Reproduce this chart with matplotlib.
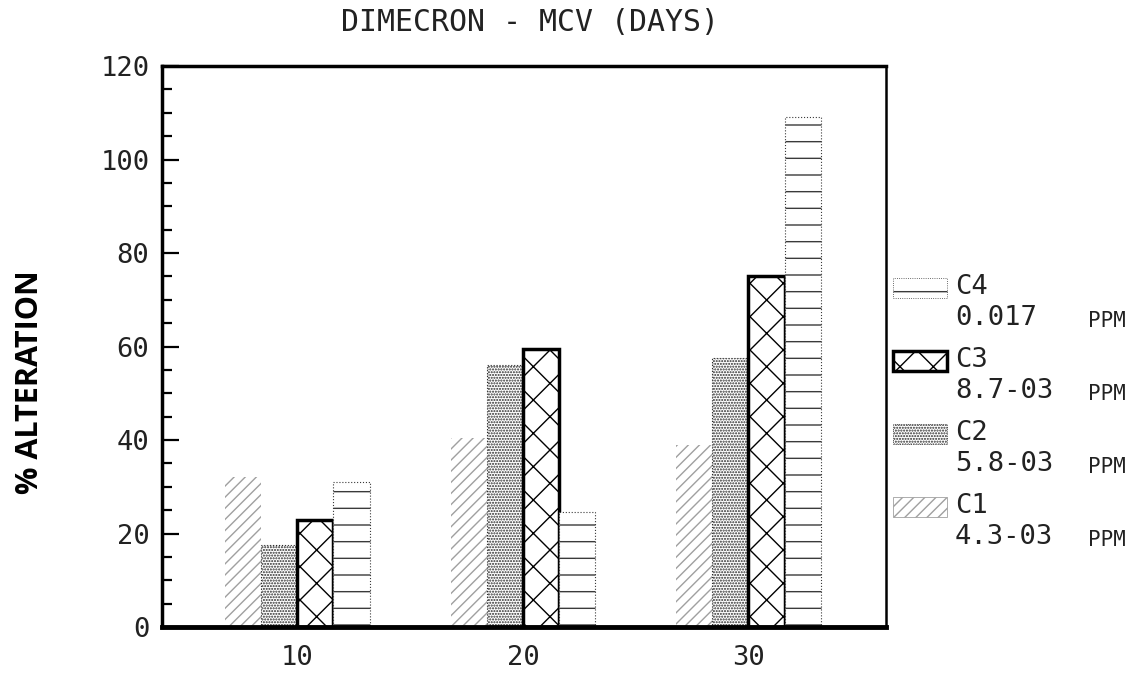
import matplotlib
matplotlib.use('Agg')
import matplotlib.pyplot as plt
from matplotlib.patches import Rectangle
from matplotlib.ticker import MultipleLocator
import numpy as np

# data
days = [10, 20, 30]
series = ['C1', 'C2', 'C3', 'C4']
doses = ['4.3-03', '5.8-03', '8.7-03', '0.017']
c1 = [32, 40.5, 39]
c2 = [17.5, 56, 57.5]
c3 = [23, 59.5, 75]
c4 = [31, 24.5, 109]
values = [c1, c2, c3, c4]

# styles for each series
hatches = ['///', '......', 'x', '-']
hatch_colors = ['#a0a0a0', '#2a2a2a', 'black', '#3a3a3a']
edge_widths = [0, 0.8, 2.5, 0.8]
edge_styles = ['-', ':', '-', ':']

mono = ['DejaVu Sans Mono']
fs = 19.5
plt.rcParams['hatch.linewidth'] = 1.0

fig = plt.figure(figsize=(11.44, 6.82), dpi=100)
ax = fig.add_axes([0.1416, 0.0806, 0.6329, 0.8226])

width = 1.6
x = np.array(days, dtype=float)
for i in range(4):
    offs = (i - 1.5) * width
    ax.bar(x + offs, values[i], width=width, facecolor='white',
           edgecolor=hatch_colors[i], hatch=hatches[i],
           linewidth=edge_widths[i], linestyle=edge_styles[i], zorder=2)

ax.set_xlim(4, 36.1)
ax.set_ylim(0, 120)
ax.set_xticks(days)
ax.set_xticklabels([str(d) for d in days], family=mono, fontsize=fs, color='#222222')
ax.yaxis.set_major_locator(MultipleLocator(20))
ax.yaxis.set_minor_locator(MultipleLocator(5))
for lab in ax.get_yticklabels():
    lab.set_family(mono)
ax.tick_params(axis='y', which='major', direction='in', length=12, width=1.6,
               labelsize=fs, labelcolor='#222222', pad=9)
ax.tick_params(axis='y', which='minor', direction='in', length=7, width=1.6)
ax.tick_params(axis='x', length=0, pad=13)

ax.spines['left'].set_linewidth(2.5)
ax.spines['bottom'].set_linewidth(3.5)
ax.spines['top'].set_linewidth(2.5)
ax.spines['right'].set_linewidth(1.8)

ax.set_ylabel('% ALTERATION', family=['Open Sans', 'DejaVu Sans'], fontweight='bold',
              fontsize=22)
ax.yaxis.set_label_coords(-0.162, 0.437)
fig.text(0.463, 0.967, 'DIMECRON - MCV (DAYS)', family=mono, fontsize=21.5,
         ha='center', va='center', color='#222222')

# legend drawn beside the axes, top entry is C4
for k, i in enumerate([3, 2, 1, 0]):
    yb = 0.563 - k * 0.107
    fig.add_artist(Rectangle((0.7806, yb), 0.0472, 0.0293, transform=fig.transFigure,
                             facecolor='white', edgecolor=hatch_colors[i],
                             hatch=hatches[i], linewidth=edge_widths[i] if i == 2 else 0.6,
                             linestyle=edge_styles[i]))
    fig.text(0.8348, yb + 0.016, series[i], family=mono, fontsize=fs,
             va='center', color='#222222')
    fig.text(0.8348, yb - 0.03, doses[i], family=mono, fontsize=fs,
             va='center', color='#222222')
    fig.text(0.951, yb - 0.034, 'PPM', family=mono, fontsize=15,
             va='center', color='#222222')

fig.savefig('out.png', dpi=100)
